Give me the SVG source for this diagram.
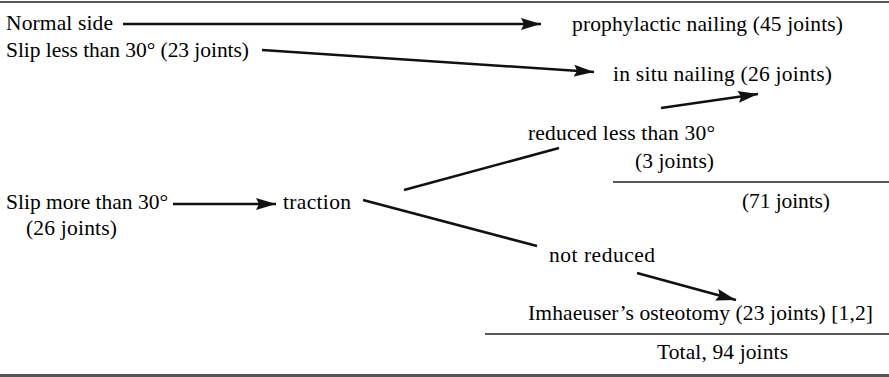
<svg xmlns="http://www.w3.org/2000/svg" width="889" height="377" viewBox="0 0 889 377">
<style>
.t text{font-size:21.5px;fill:#000}
.c{stroke:#111;stroke-width:2.6;fill:none}
.a{marker-end:url(#ah)}
.rule{stroke:#222;stroke-width:1.5}
</style>
<defs>
<marker id="ah" markerUnits="userSpaceOnUse" markerWidth="22" markerHeight="14" refX="20" refY="7" orient="auto">
<path d="M0,1 L20,7 L0,13 L3,7 Z" fill="#111"/>
</marker>
</defs>
<rect width="889" height="377" fill="#fff"/>
<g id="rules">
<line class="rule" x1="0" y1="2" x2="889" y2="2"/>
<line class="rule" x1="613" y1="182" x2="889" y2="182"/>
<line class="rule" x1="485" y1="334" x2="889" y2="334"/>
<line x1="0" y1="375.5" x2="889" y2="375.5" stroke="#555" stroke-width="3"/>
</g>
<g id="connectors">
<line class="c a" x1="123" y1="24" x2="541" y2="24"/>
<line class="c a" x1="262" y1="50" x2="594" y2="72"/>
<line class="c a" x1="661" y1="108" x2="758" y2="94"/>
<line class="c a" x1="173" y1="204" x2="276" y2="204"/>
<line class="c a" x1="637" y1="273" x2="736" y2="300"/>
<line class="c" x1="404" y1="190" x2="559" y2="148"/>
<line class="c" x1="363" y1="200" x2="537" y2="246"/>
</g>
<g class="t" font-family="'Liberation Serif', 'Times New Roman', 'DejaVu Serif', serif">
<g id="normal"><text x="6" y="30" textLength="107">Normal side</text></g>
<g id="slipless"><text x="6" y="57" textLength="243">Slip less than 30° (23 joints)</text></g>
<g id="prophylactic"><text x="572" y="31" textLength="271">prophylactic nailing (45 joints)</text></g>
<g id="insitu"><text x="613" y="81" textLength="219">in situ nailing (26 joints)</text></g>
<g id="reducedless"><text x="528" y="140" textLength="187">reduced less than 30°</text><text x="635" y="168" textLength="79">(3 joints)</text></g>
<g id="sum71"><text x="742" y="208" textLength="88">(71 joints)</text></g>
<g id="slipmore"><text x="6" y="209" textLength="162">Slip more than 30°</text><text x="26" y="235" textLength="91">(26 joints)</text></g>
<g id="traction"><text x="283" y="209" textLength="68">traction</text></g>
<g id="notreduced"><text x="549" y="262" textLength="106">not reduced</text></g>
<g id="imhaeuser"><text x="528" y="320" textLength="345">Imhaeuser’s osteotomy (23 joints) [1,2]</text></g>
<g id="total"><text x="657" y="359" textLength="131">Total, 94 joints</text></g>
</g>
</svg>
